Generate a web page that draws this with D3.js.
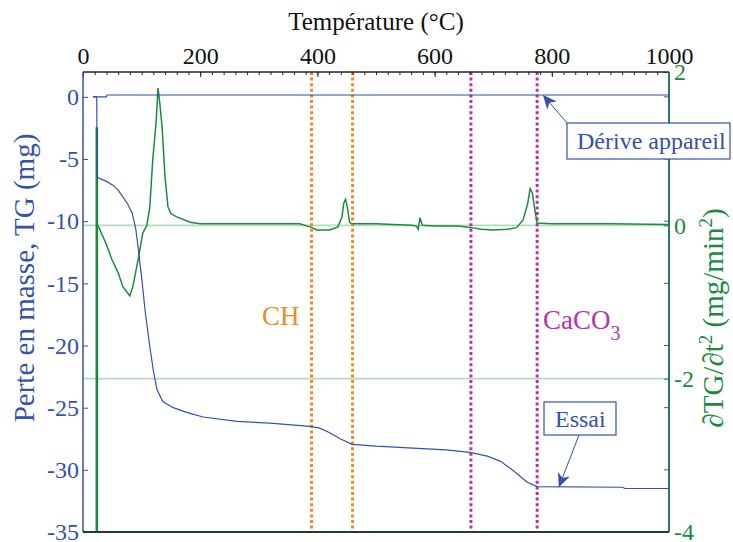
<!DOCTYPE html>
<html><head><meta charset="utf-8">
<script src="https://cdn.jsdelivr.net/npm/d3@7"></script>
<style>
body{margin:0;background:#fff}
svg{display:block}
</style>
</head><body>
<svg id="c" width="733" height="542"></svg>
<script>
// ---- data ----
const tempTicks = [0, 200, 400, 600, 800, 1000];
const tempMinorTicks = d3.range(0, 1001, 20);
const massTicks = [-35, -30, -25, -20, -15, -10, -5, 0];
const derivTicks = [-4, -2, 0, 2];
const derivGrid = [0, -2];

// Essai (TG, mg) vs temperature
const essai = [[17,0],[23.5,0],[24,-6.45],[30,-6.6],[40,-6.8],[51,-7.1],[60,-7.5],[68,-8.05],[76,-8.6],[84,-9.35],
  [90,-10.6],[94,-12.1],[100,-14.5],[106,-17.2],[114,-20.1],[120,-22.0],[126,-23.5],[136,-24.5],[154,-25.0],
  [178,-25.4],[205,-25.75],[263,-26.1],[319,-26.25],[387,-26.5],[404,-26.65],[420,-27.0],[439,-27.5],[459,-27.95],
  [500,-28.1],[563,-28.25],[620,-28.4],[660,-28.6],[690,-28.9],[712,-29.3],[735,-30.1],[758,-31.0],[775,-31.35],
  [920,-31.4],[925,-31.5],[1000,-31.5]];
// Dérive appareil (mg)
const derive = [[17,0],[40,0],[41,0.15],[1000,0.15]];
// initial spike of dTG/dt (right axis)
const dtgSpike = [[23.6,1.28],[23.6,-4.5]];
// dTG/dt (right axis)
const dtg = [[23,0],[25,0],[29,-0.06],[40,-0.25],[49.5,-0.45],[60,-0.62],[68,-0.8],
  [80,-0.92],[85,-0.8],[94,-0.45],[102,-0.1],[109,0],[114,0.24],[119,0.85],[125,1.37],[128,1.79],[131,1.6],
  [135,1.28],[140,0.63],[145,0.24],[150,0.15],[160,0.11],[183,0.04],[200,0.02],[250,0.02],[300,0.02],[370,0.02],
  [391,-0.03],[399,-0.06],[421,-0.06],[435,-0.02],[442,0.11],[445,0.29],[448,0.34],[451,0.24],[455,0.04],[459,0.02],
  [500,0.02],[560,0.0],[569,-0.01],[572,-0.05],[575,0.1],[579,0.0],[600,-0.01],[640,-0.01],[663,-0.03],[680,-0.05],
  [700,-0.06],[725,-0.05],[740,-0.03],[751,0.07],[759,0.29],[763,0.48],[767,0.42],[771,0.2],[775,0.03],[800,0.02],
  [900,0.02],[1000,0.01]];
const chLines = [390, 460];
const caco3Lines = [662, 775];

// ---- layout ----
const L = 83, R = 669, T = 72, B = 532;
const FONT = "'Liberation Serif'";
const svg = d3.select("#c");
const x = d3.scaleLinear().domain([0, 1000]).range([L, R]);
const yL = d3.scaleLinear().domain([-35, 2]).range([B, T]);
const yR = d3.scaleLinear().domain([-4, 2]).range([B, T]);

const blue = "#3452a8", green = "#1a8b3e", orange = "#f08a26", magenta = "#b3369f";

const defs = svg.append("defs");
defs.append("clipPath").attr("id", "pc")
  .append("rect").attr("x", L).attr("y", T).attr("width", R - L).attr("height", B - T);
defs.append("marker").attr("id", "arr").attr("viewBox", "0 0 10 10").attr("refX", 10).attr("refY", 5)
  .attr("markerWidth", 14).attr("markerHeight", 14).attr("markerUnits", "userSpaceOnUse").attr("orient", "auto")
  .append("path").attr("d", "M0,0.5 L10,5 L0,9.5 L3,5 Z").attr("fill", blue);

const plot = svg.append("g").attr("clip-path", "url(#pc)");

plot.selectAll("line.grid").data(derivGrid).join("line")
  .attr("x1", L).attr("x2", R).attr("y1", d => yR(d)).attr("y2", d => yR(d))
  .attr("stroke", "#b3dcbf").attr("stroke-width", 1.6);

plot.selectAll("line.ch").data(chLines).join("line")
  .attr("x1", d => x(d)).attr("x2", d => x(d)).attr("y1", T).attr("y2", B)
  .attr("stroke", orange).attr("stroke-width", 3).attr("stroke-dasharray", "3,2.6");
plot.selectAll("line.cc").data(caco3Lines).join("line")
  .attr("x1", d => x(d)).attr("x2", d => x(d)).attr("y1", T).attr("y2", B)
  .attr("stroke", magenta).attr("stroke-width", 3).attr("stroke-dasharray", "3,2.6");

const lineL = d3.line().x(d => x(d[0])).y(d => yL(d[1]));
const lineR = d3.line().x(d => x(d[0])).y(d => yR(d[1]));
plot.append("path").datum(dtgSpike).attr("d", lineR).attr("fill", "none").attr("stroke", green).attr("stroke-width", 2.6);
plot.append("path").datum(dtg).attr("d", lineR).attr("fill", "none").attr("stroke", green).attr("stroke-width", 1.5);
plot.append("path").datum(derive).attr("d", lineL).attr("fill", "none").attr("stroke", blue).attr("stroke-width", 1.1);
plot.append("path").datum(essai).attr("d", lineL).attr("fill", "none").attr("stroke", blue).attr("stroke-width", 1.2);

// ---- axes ----
const fmt = d => String(d);
const gTop = svg.append("g").attr("transform", `translate(0,${T})`)
  .call(d3.axisTop(x).tickValues(tempMinorTicks).tickSize(-3).tickFormat(""));
gTop.selectAll("line").attr("stroke", "#222");
const gTop2 = svg.append("g").attr("transform", `translate(0,${T})`)
  .call(d3.axisTop(x).tickValues(tempTicks).tickSize(-5).tickPadding(8).tickFormat(fmt));
gTop2.attr("font-family", null);
gTop2.selectAll("text").style("font-family", FONT).style("font-size", "24px").attr("fill", "#111");
gTop2.selectAll("line").attr("stroke", "#222");
gTop.select(".domain").remove(); gTop2.select(".domain").remove();

const gL = svg.append("g").attr("transform", `translate(${L},0)`)
  .call(d3.axisLeft(yL).tickValues(massTicks).tickSize(-5).tickPadding(4).tickFormat(fmt));
gL.attr("font-family", null);
gL.select(".domain").remove();
gL.selectAll("line").attr("stroke", blue);
gL.selectAll("text").style("font-family", FONT).style("font-size", "24px").attr("fill", blue);
svg.selectAll("line.rt").data(massTicks).join("line")
  .attr("x1", R - 5).attr("x2", R).attr("y1", d => yL(d)).attr("y2", d => yL(d)).attr("stroke", blue);

const gR = svg.append("g").attr("transform", `translate(${R},0)`)
  .call(d3.axisRight(yR).tickValues(derivTicks).tickSize(-5).tickPadding(5).tickFormat(fmt));
gR.attr("font-family", null);
gR.select(".domain").remove();
gR.selectAll("line").attr("stroke", green);
gR.selectAll("text").style("font-family", FONT).style("font-size", "24px").attr("fill", green);

// frame lines
svg.append("line").attr("x1", L).attr("x2", R).attr("y1", T).attr("y2", T).attr("stroke", "#222").attr("stroke-width", 1.5);
svg.append("line").attr("x1", L).attr("x2", L).attr("y1", T).attr("y2", B).attr("stroke", blue).attr("stroke-width", 1.5);
svg.append("line").attr("x1", R).attr("x2", R).attr("y1", T).attr("y2", B).attr("stroke", "#2a7868").attr("stroke-width", 2);
svg.append("line").attr("x1", L).attr("x2", R).attr("y1", B).attr("y2", B).attr("stroke", "#1e3d2c").attr("stroke-width", 2);

// titles
function txt(sel, size) { return sel.style("font-family", FONT).style("font-size", size + "px"); }
txt(svg.append("text"), 25).attr("x", 376).attr("y", 30).attr("text-anchor", "middle")
  .attr("fill", "#111").text("Température (°C)");
txt(svg.append("text"), 29).attr("transform", "translate(34,278) rotate(-90)").attr("text-anchor", "middle")
  .attr("fill", blue).text("Perte en masse, TG (mg)");
const rt = txt(svg.append("text"), 29).attr("transform", "translate(723,318) rotate(-90)").attr("text-anchor", "middle")
  .attr("fill", green);
rt.append("tspan").text("∂TG/∂t");
rt.append("tspan").attr("dy", -11).style("font-size", "19px").text("2");
rt.append("tspan").attr("dy", 11).text(" (mg/min");
rt.append("tspan").attr("dy", -11).style("font-size", "19px").text("2");
rt.append("tspan").attr("dy", 11).text(")");

// phase labels
txt(svg.append("text"), 27).attr("x", 262).attr("y", 325).attr("fill", orange).text("CH");
const cc = txt(svg.append("text"), 27).attr("x", 543).attr("y", 329).attr("fill", magenta);
cc.append("tspan").text("CaCO");
cc.append("tspan").attr("dy", 11).style("font-size", "20px").text("3");

// annotation boxes with arrows
function callout(tipT, tipM, bx, by, bw, bh, label, sx, sy, tx) {
  svg.append("line").attr("x1", sx).attr("y1", sy).attr("x2", x(tipT)).attr("y2", yL(tipM))
    .attr("stroke", blue).attr("stroke-width", 1).attr("marker-end", "url(#arr)");
  svg.append("rect").attr("x", bx).attr("y", by).attr("width", bw).attr("height", bh)
    .attr("fill", "#fff").attr("stroke", blue).attr("stroke-width", 1.2);
  txt(svg.append("text"), 24).attr("x", tx).attr("y", by + bh / 2).attr("dy", "0.35em")
    .attr("fill", blue).text(label);
}
callout(785, 0.15, 567, 123, 163, 36, "Dérive appareil", 567, 123, 577);
callout(812, -31.4, 544, 402, 72, 33, "Essai", 579, 435, 555);
</script>
</body></html>
